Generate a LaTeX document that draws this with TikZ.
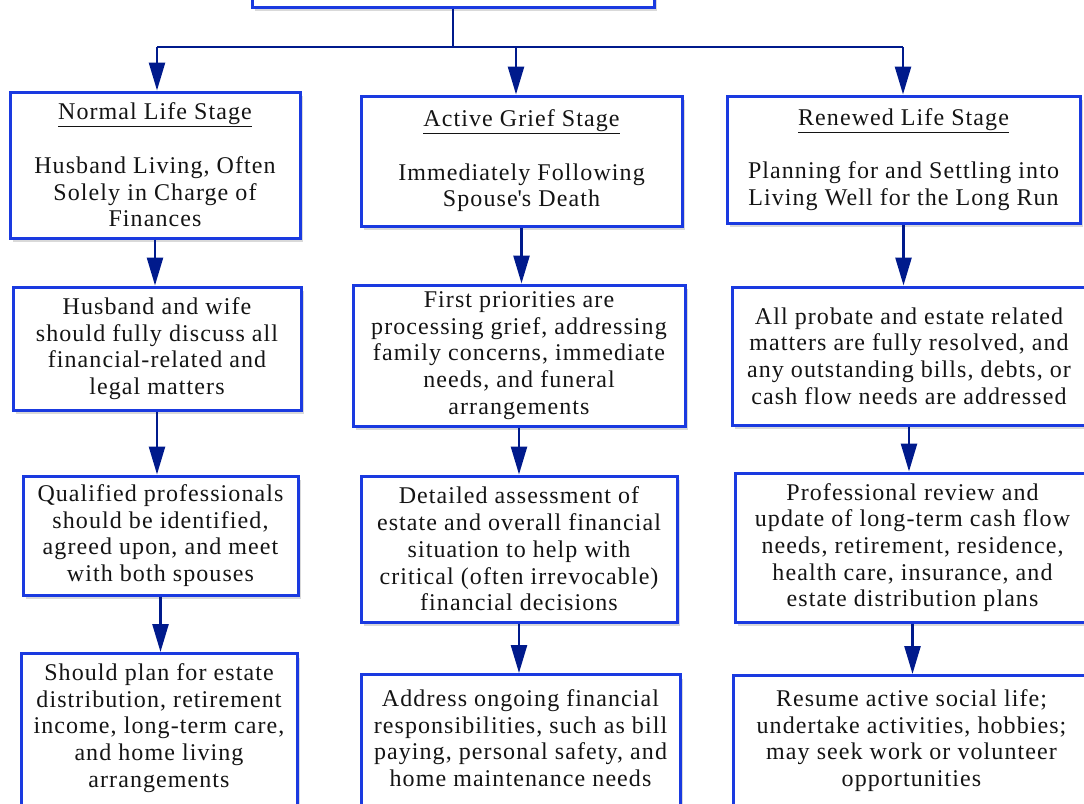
\documentclass[tikz,border=0pt]{standalone}
\usepackage{fontspec}
\setmainfont{Liberation Serif}[LetterSpace=4.5]
\usetikzlibrary{arrows.meta,shadows}
\definecolor{boxblue}{HTML}{1A3AE0}
\definecolor{navy}{HTML}{001A8C}
\definecolor{txt}{HTML}{141414}
\tikzset{
  box/.style={draw=boxblue, line width=3pt, fill=white, align=center, text=txt,
    font=\fontsize{24}{26.7}\selectfont, inner sep=0pt,
    drop shadow={shadow xshift=3pt, shadow yshift=-4pt, opacity=0.3}},
  lastbox/.style={box, anchor=north, text depth=22pt},
  conn/.style={draw=navy, line width=2.6pt},
  arr/.style={conn, -{Triangle[length=28pt,width=16pt]}},
}
\begin{document}
\begin{tikzpicture}[x=1pt,y=-1pt]
\useasboundingbox (0,0) rectangle (1084,803);
\clip (0,0) rectangle (1084,803);

% top (cut-off) box
\node[box, minimum width=402pt, minimum height=67pt] (top) at (453,-26.5) {};

% row 1
\node[box, minimum width=290pt, minimum height=146pt] (a1) at (155,165)
  {\underline{Normal Life Stage}\\[26.7pt]Husband Living, Often\\Solely in Charge of\\Finances};
\node[box, minimum width=321pt, minimum height=130pt] (b1) at (521.5,161)
  {\underline{Active Grief Stage}\\[26.7pt]Immediately Following\\Spouse\textquotesingle s Death};
\node[box, minimum width=353pt, minimum height=127pt] (c1) at (903.5,159.5)
  {\underline{Renewed Life Stage}\\[26.7pt]Planning for and Settling into\\Living Well for the Long Run};

% row 2
\node[box, minimum width=288pt, minimum height=123pt] (a2) at (157,348.5)
  {Husband and wife\\should fully discuss all\\financial-related and\\legal matters};
\node[box, minimum width=332pt, minimum height=141pt] (b2) at (519,355.5)
  {First priorities are\\processing grief, addressing\\family concerns, immediate\\needs, and funeral\\arrangements};
\node[box, minimum width=354pt, minimum height=138pt] (c2) at (909,356)
  {All probate and estate related\\matters are fully resolved, and\\any outstanding bills, debts, or\\cash flow needs are addressed};

% row 3
\node[box, minimum width=275pt, minimum height=119pt] (a3) at (160.5,535.5)
  {Qualified professionals\\should be identified,\\agreed upon, and meet\\with both spouses};
\node[box, minimum width=316pt, minimum height=146pt] (b3) at (519,549)
  {Detailed assessment of\\estate and overall financial\\situation to help with\\critical (often irrevocable)\\financial decisions};
\node[box, minimum width=355pt, minimum height=149pt] (c3) at (912.5,547.5)
  {Professional review and\\update of long-term cash flow\\needs, retirement, residence,\\health care, insurance, and\\estate distribution plans};

% row 4 (cut off at bottom)
\node[lastbox, minimum width=276pt, inner ysep=10pt] (a4) at (159,652)
  {Should plan for estate\\distribution, retirement\\income, long-term care,\\and home living\\arrangements};
\node[lastbox, minimum width=319pt, inner ysep=15pt] (b4) at (520.5,673)
  {Address ongoing financial\\responsibilities, such as bill\\paying, personal safety, and\\home maintenance needs};
\node[lastbox, minimum width=357pt, inner ysep=14pt] (c4) at (911.5,674)
  {Resume active social life;\\undertake activities, hobbies;\\may seek work or volunteer\\opportunities};

% distribution connectors
\coordinate (hub) at (453,47);
\coordinate (ta) at (157,47);
\coordinate (tb) at (516,47);
\coordinate (tc) at (903,47);
\draw[conn] (top.south) -- (hub);
\draw[conn] (ta) -- (tc);
\draw[arr] (ta) -- (ta |- a1.north);
\draw[arr] (tb) -- (tb |- b1.north);
\draw[arr] (tc) -- (tc |- c1.north);

% column arrows
\draw[arr] (a1.south) -- (a1.south |- a2.north);
\draw[arr] (a2.south) -- (a2.south |- a3.north);
\draw[arr] (a3.south) -- (a3.south |- a4.north);
\draw[arr] (b1.south) -- (b1.south |- b2.north);
\draw[arr] (b2.south) -- (b2.south |- b3.north);
\draw[arr] (b3.south) -- (b3.south |- b4.north);
\draw[arr] (c1.south) -- (c1.south |- c2.north);
\draw[arr] (c2.south) -- (c2.south |- c3.north);
\draw[arr] (c3.south) -- (c3.south |- c4.north);
\end{tikzpicture}
\end{document}
